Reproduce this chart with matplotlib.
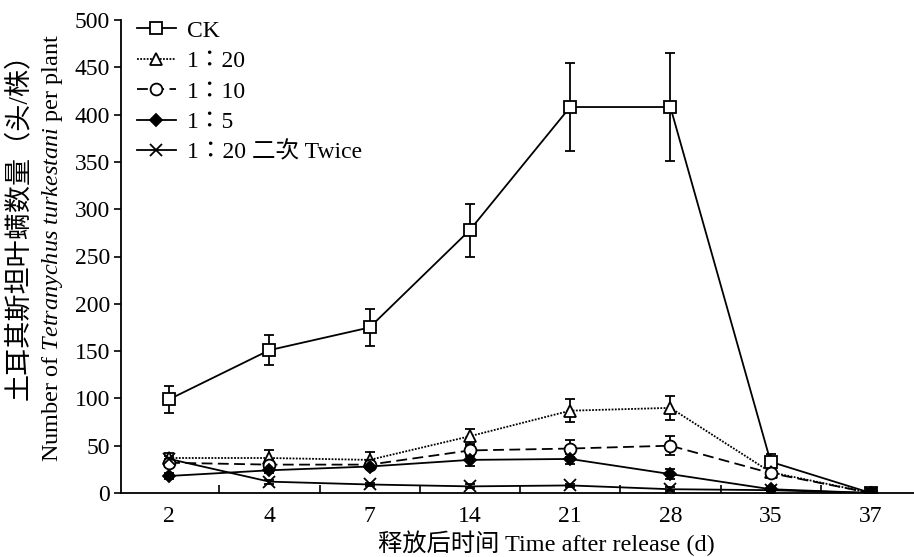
import numpy as np
import matplotlib
matplotlib.use("Agg")
import matplotlib.pyplot as plt
from matplotlib.lines import Line2D
from matplotlib.font_manager import FontProperties

plt.rcParams['font.family'] = ['Liberation Serif', 'Noto Sans CJK SC']
plt.rcParams['mathtext.fontset'] = 'custom'
plt.rcParams['mathtext.rm'] = 'Liberation Serif'
plt.rcParams['mathtext.it'] = 'Liberation Serif:italic'

# data
days = ["2", "4", "7", "14", "21", "28", "35", "37"]

ck = [99, 151, 175, 278, 408, 408, 33, 0]
ck_err = [14, 16, 20, 28, 47, 57, 8, 0]

r20 = [37, 37, 35, 60, 87, 90, 22, 0]
r20_err = [5, 8, 8, 8, 12, 13, 4, 0]

r10 = [32, 30, 30, 45, 47, 50, 21, 0]
r10_err = [4, 5, 5, 6, 9, 10, 3, 0]

r5 = [18, 24, 28, 35, 36, 20, 4, 0]
r5_err = [3, 3, 3, 6, 5, 5, 2, 0]

twice = [36, 12, 9, 7, 8, 4, 3, 0]
twice_err = [3, 2, 2, 2, 2, 2, 1, 0]

labels = ["CK", "1：20", "1：10", "1：5", "1：20 二次 Twice"]

W, H = 914, 557
fig = plt.figure(figsize=(W / 100, H / 100), dpi=100)
ax = fig.add_axes([121 / W, (H - 493) / H, 1 - 121 / W, 473 / H])

x = np.arange(len(days))

styles = [
    dict(marker="s", mfc="white", ls="-", ms=8.5),
    dict(marker="^", mfc="white", ls=(0, (1, 0.8)), ms=8.5),
    dict(marker="o", mfc="white", ls=(0, (6, 3)), ms=8.5),
    dict(marker="D", mfc="black", ls="-", ms=6),
    dict(marker="x", mfc="black", ls="-", ms=8.5),
]
series = [(ck, ck_err), (r20, r20_err), (r10, r10_err), (r5, r5_err),
          (twice, twice_err)]

handles = []
for (vals, err), st, lab in zip(series, styles, labels):
    ax.errorbar(x, vals, yerr=err, color="black", lw=1.3, capsize=3.3,
                elinewidth=1.3, capthick=1.3, mec="black", mew=1.3, **st)
    handles.append(Line2D([], [], color="black", lw=1.3, mec="black",
                          mew=1.3, label=lab, **st))

ax.set_xlim(-0.48, 7.43)
ax.set_ylim(0, 500)
ax.set_yticks(np.arange(0, 501, 50))
ax.set_xticks(x)
ax.set_xticklabels(days)
ax.set_xticks(x[:-1] + 0.5, minor=True)
ax.tick_params(axis="x", which="major", length=0, pad=9, labelsize=17)
ax.tick_params(axis="x", which="minor", direction="in", length=6, width=1.2)
ax.tick_params(axis="y", which="major", direction="out", length=5, width=1.2,
               labelsize=17, pad=3)

for s in ["top", "right"]:
    ax.spines[s].set_visible(False)
for s in ["left", "bottom"]:
    ax.spines[s].set_linewidth(1.3)

leg_font = FontProperties(family=['Liberation Serif', 'Noto Sans CJK TC'],
                          size=17)
ax.legend(handles=handles, loc="upper left",
          bbox_to_anchor=(137 / W, 1 - 20 / H),
          bbox_transform=fig.transFigure, frameon=False, prop=leg_font,
          handlelength=1.65, handletextpad=0.45, labelspacing=0.38,
          borderpad=0, borderaxespad=0)

fig.text(19 / W, 1 - 40 / H, "土耳其斯坦叶螨数量（头/株）", rotation=90,
         ha="center", va="top", fontsize=19.5)
fig.text(53 / W, 1 - 34 / H,
         r"Number of $\mathit{Tetranychus\ turkestani}$ per plant",
         rotation=90, ha="center", va="top", fontsize=17.5)
fig.text(546 / W, 1 - 543 / H, "释放后时间 Time after release (d)",
         ha="center", va="center", fontsize=17.5)

fig.savefig("out.png", dpi=100)
